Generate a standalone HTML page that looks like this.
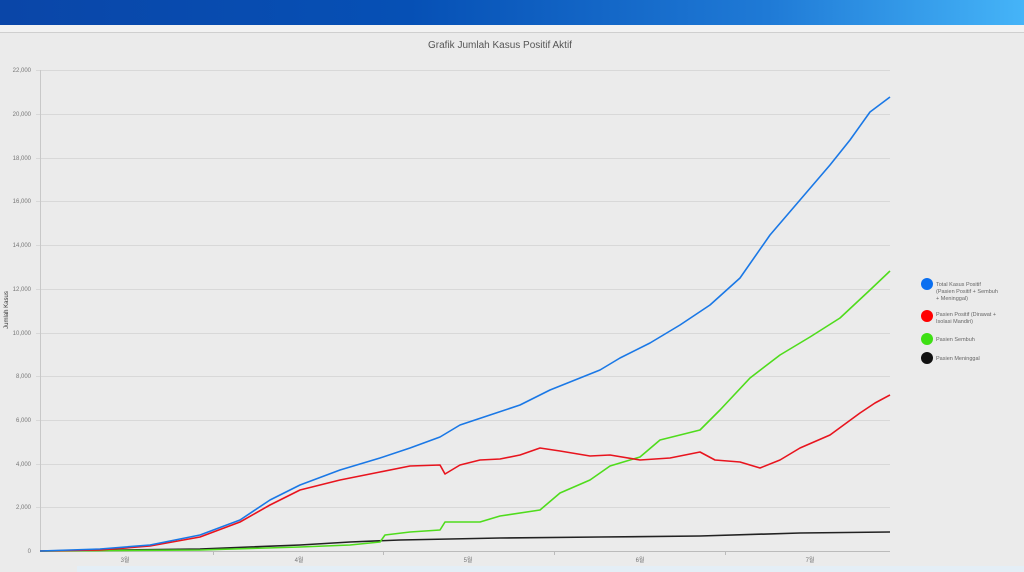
<!DOCTYPE html>
<html><head><meta charset="utf-8"><style>
body{margin:0;width:1024px;height:572px;overflow:hidden;background:#ebebeb;font-family:"Liberation Sans","Noto Sans CJK KR",sans-serif;}
.hdr{position:absolute;left:0;top:0;width:1024px;height:25px;background:linear-gradient(90deg,#0a46a8 0%,#0650b5 40%,#1f7ad6 75%,#45b4f8 100%);}
.sep{position:absolute;left:0;top:25px;width:1024px;height:7px;background:#f2f2f2;border-bottom:1px solid #cfcfcf;}
</style></head><body>
<div class="hdr"></div><div class="sep"></div>
<svg width="1024" height="572" style="position:absolute;left:0;top:0" font-family="Liberation Sans, Noto Sans CJK KR, sans-serif">
<text x="500" y="48" font-size="10" fill="#555" text-anchor="middle">Grafik Jumlah Kasus Positif Aktif</text>
<g stroke="#d8d8d8" stroke-width="1">
<line x1="36" y1="70.5" x2="890" y2="70.5"/><line x1="36" y1="114.5" x2="890" y2="114.5"/><line x1="36" y1="158.5" x2="890" y2="158.5"/><line x1="36" y1="201.5" x2="890" y2="201.5"/><line x1="36" y1="245.5" x2="890" y2="245.5"/><line x1="36" y1="289.5" x2="890" y2="289.5"/><line x1="36" y1="333.5" x2="890" y2="333.5"/><line x1="36" y1="376.5" x2="890" y2="376.5"/><line x1="36" y1="420.5" x2="890" y2="420.5"/><line x1="36" y1="464.5" x2="890" y2="464.5"/><line x1="36" y1="507.5" x2="890" y2="507.5"/>
</g>
<line x1="40.5" y1="70" x2="40.5" y2="551" stroke="#c8c8c8"/>
<line x1="40" y1="551.5" x2="890" y2="551.5" stroke="#bbb"/>
<g stroke="#bbb"><line x1="213.5" y1="551" x2="213.5" y2="555"/><line x1="383.5" y1="551" x2="383.5" y2="555"/><line x1="554.5" y1="551" x2="554.5" y2="555"/><line x1="725.5" y1="551" x2="725.5" y2="555"/></g>
<g font-size="6" fill="#777" text-anchor="end">
<text x="31" y="72">22,000</text><text x="31" y="116">20,000</text><text x="31" y="160">18,000</text><text x="31" y="203">16,000</text><text x="31" y="247">14,000</text><text x="31" y="291">12,000</text><text x="31" y="335">10,000</text><text x="31" y="378">8,000</text><text x="31" y="422">6,000</text><text x="31" y="466">4,000</text><text x="31" y="509">2,000</text><text x="31" y="553">0</text>
</g>
<g font-size="6" fill="#777" text-anchor="middle"><text x="125" y="562">3월</text><text x="299" y="562">4월</text><text x="468" y="562">5월</text><text x="640" y="562">6월</text><text x="810" y="562">7월</text></g>
<text transform="translate(8,310) rotate(-90)" font-size="6" fill="#333" text-anchor="middle">Jumlah Kasus</text>
<g fill="none" stroke-width="1.6" stroke-linejoin="round">
<polyline stroke="#222" points="40,551 200,549 300,545 350,542 400,540 500,538 600,537 700,536 800,533 890,532"/>
<polyline stroke="#4fdc1c" points="40,551 200,550 300,547 350,545 380,542 385,535 410,532 440,530 445,522 480,522 500,516 540,510 560,493 590,480 610,466 640,457 660,440 700,430 720,410 750,378 780,355 810,337 840,318 870,290 890,271"/>
<polyline stroke="#e8141e" points="40,551 100,550 150,546 200,537 240,522 270,505 300,490 340,480 380,472 410,466 440,465 445,474 460,465 480,460 500,459 520,455 540,448 560,451 590,456 610,455 640,460 670,458 700,452 715,460 740,462 760,468 780,460 800,448 830,435 860,413 875,403 890,395"/>
<polyline stroke="#1a78e6" points="40,551 100,549 150,545 200,535 240,520 270,500 300,485 340,470 380,458 410,448 440,437 460,425 490,415 520,405 550,390 580,378 600,370 620,358 650,343 680,325 710,305 740,278 770,235 800,200 830,165 850,140 870,112 890,97"/>
</g>
<circle cx="927" cy="284" r="6" fill="#0a6ff0"/><circle cx="927" cy="316" r="6" fill="#f00"/><circle cx="927" cy="339" r="6" fill="#3ee014"/><circle cx="927" cy="358" r="6" fill="#111"/>
<g font-size="5.5" fill="#666">
<text x="936" y="286">Total Kasus Positif</text><text x="936" y="293">(Pasien Positif + Sembuh</text><text x="936" y="300">+ Meninggal)</text>
<text x="936" y="316">Pasien Positif (Dirawat +</text><text x="936" y="323">Isolasi Mandiri)</text>
<text x="936" y="341">Pasien Sembuh</text><text x="936" y="360">Pasien Meninggal</text>
</g>
<rect x="77" y="566" width="947" height="6" fill="#e4eef6"/>
</svg>
</body></html>
